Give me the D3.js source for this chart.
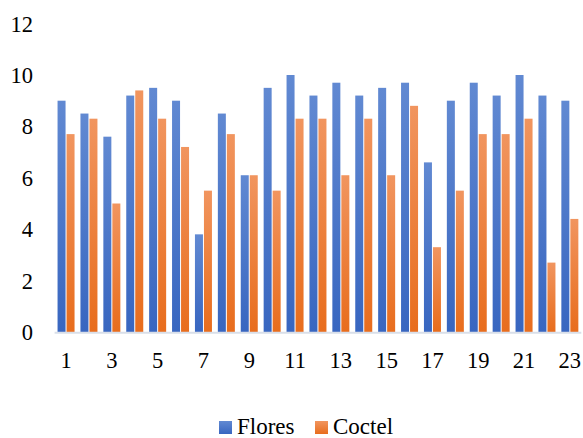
<!DOCTYPE html>
<html>
<head>
<meta charset="utf-8">
<script src="https://cdn.jsdelivr.net/npm/d3@7/dist/d3.min.js"></script>
<style>
  html, body { margin: 0; padding: 0; background: #fff; }
  svg { display: block; }
</style>
</head>
<body>
<svg id="chart" width="583" height="438"></svg>
<script>
const categories = ["1","2","3","4","5","6","7","8","9","10","11","12","13","14","15","16","17","18","19","20","21","22","23"];
const seriesNames = ["Flores", "Coctel"];
const flores = [9.0, 8.5, 7.6, 9.2, 9.5, 9.0, 3.8, 8.5, 6.1, 9.5, 10.0, 9.2, 9.7, 9.2, 9.5, 9.7, 6.6, 9.0, 9.7, 9.2, 10.0, 9.2, 9.0];
const coctel = [7.7, 8.3, 5.0, 9.4, 8.3, 7.2, 5.5, 7.7, 6.1, 5.5, 8.3, 8.3, 6.1, 8.3, 6.1, 8.8, 3.3, 5.5, 7.7, 7.7, 8.3, 2.7, 4.4];
const yTicks = [0, 2, 4, 6, 8, 10, 12];
const xTickLabels = ["1","3","5","7","9","11","13","15","17","19","21","23"];

const FONT = "Times New Roman";
const FS = 22.5;

const svg = d3.select("#chart");
const margin = { left: 54.6, right: 1.7, top: 23.6 };
const W = 583;
const plotBottom = 332;

const x = d3.scaleBand().domain(categories).range([margin.left, W - margin.right]).paddingInner(0).paddingOuter(0);
const y = d3.scaleLinear().domain([0, 12]).range([plotBottom, margin.top]);

const defs = svg.append("defs");
const grads = [
  { id: "gBlue", top: "#6189d2", bottom: "#3866c0" },
  { id: "gOrange", top: "#f1955f", bottom: "#e86d1d" }
];
grads.forEach(g => {
  const lg = defs.append("linearGradient").attr("id", g.id).attr("x1", 0).attr("y1", 0).attr("x2", 0).attr("y2", 1);
  lg.append("stop").attr("offset", "0%").attr("stop-color", g.top);
  lg.append("stop").attr("offset", "100%").attr("stop-color", g.bottom);
});

const bw = x.bandwidth();
const barW = 8;
const innerGap = 1;
const groupW = barW * 2 + innerGap;

const data = [flores, coctel];
const fills = ["url(#gBlue)", "url(#gOrange)"];

data.forEach((vals, si) => {
  svg.append("g").selectAll("rect").data(vals).join("rect")
    .attr("x", (d, i) => x(categories[i]) + (bw - groupW) / 2 + si * (barW + innerGap))
    .attr("width", barW)
    .attr("y", d => y(d))
    .attr("height", d => y(0) - y(d))
    .attr("fill", fills[si]);
});

svg.append("line")
  .attr("x1", margin.left).attr("x2", W - margin.right)
  .attr("y1", y(0) + 0.8).attr("y2", y(0) + 0.8)
  .attr("stroke", "#d9dfe9").attr("stroke-width", 2);

const yAxis = d3.axisLeft(y).tickValues(yTicks).tickSize(0).tickPadding(0);
const yg = svg.append("g").attr("transform", "translate(33,0)").call(yAxis);
yg.select(".domain").remove();
yg.attr("font-family", FONT).attr("font-size", FS);
yg.selectAll("text").attr("fill", "#000").attr("dy", "0.33em");

const xAxis = d3.axisBottom(x).tickValues(xTickLabels).tickSize(0).tickPadding(0);
const xg = svg.append("g").attr("transform", "translate(0,368)").call(xAxis);
xg.select(".domain").remove();
xg.attr("font-family", FONT).attr("font-size", FS);
xg.selectAll("text").attr("fill", "#000").attr("y", 0).attr("dy", 0);

const legend = svg.append("g").attr("font-family", FONT).attr("font-size", 23);
const legendItems = [
  { name: seriesNames[0], fill: fills[0], x: 219 },
  { name: seriesNames[1], fill: fills[1], x: 315 }
];
legendItems.forEach(it => {
  legend.append("rect").attr("x", it.x).attr("y", 421).attr("width", 13).attr("height", 13).attr("fill", it.fill);
  legend.append("text").attr("x", it.x + 18).attr("y", 434).attr("fill", "#000").text(it.name);
});
</script>
</body>
</html>
